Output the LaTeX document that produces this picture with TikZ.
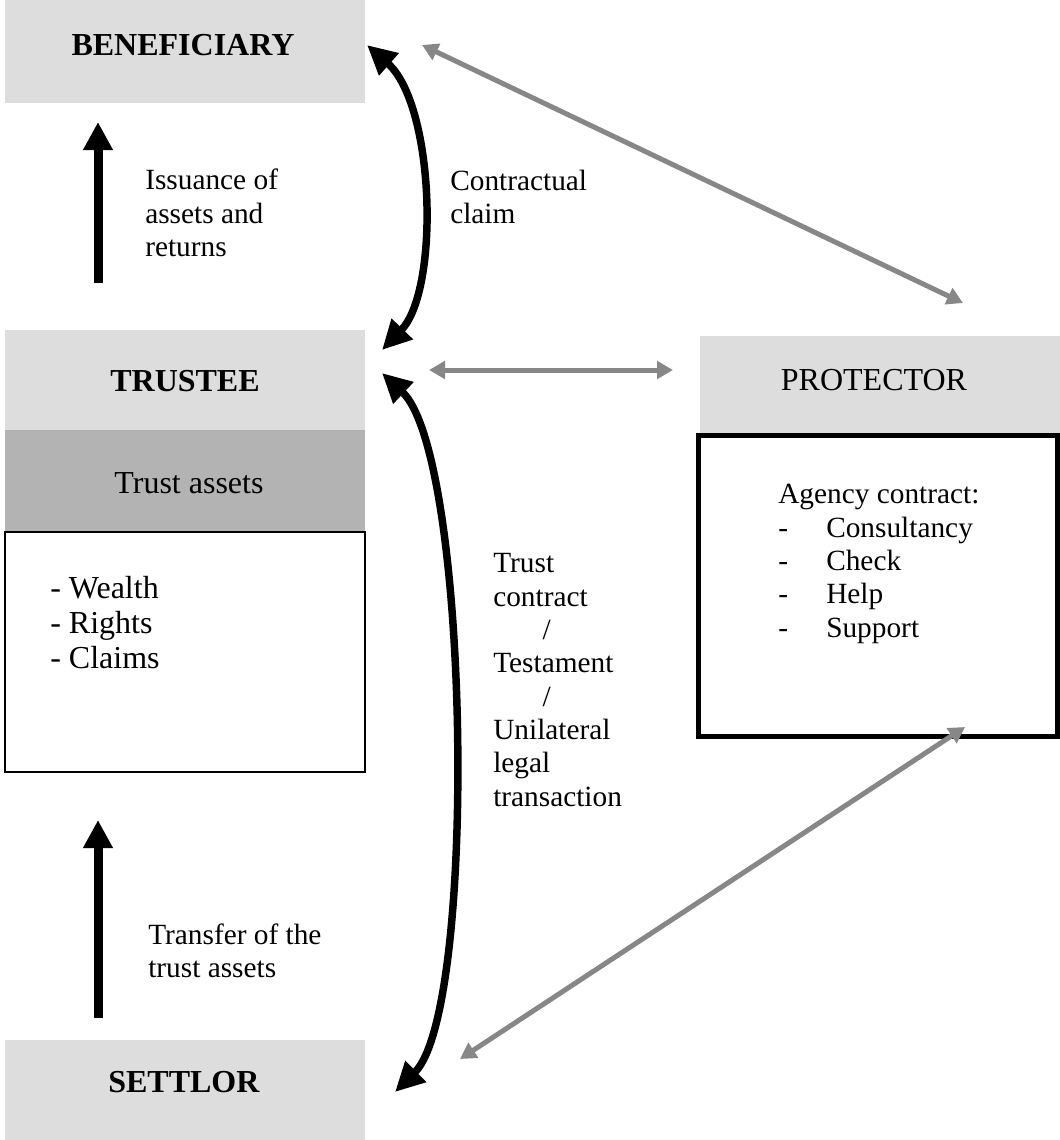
\documentclass[tikz,border=0pt]{standalone}
\usepackage{fontspec}
\setmainfont{Liberation Serif}
\usetikzlibrary{arrows.meta}
\definecolor{lightg}{HTML}{DDDDDD}
\definecolor{darkg}{HTML}{B3B3B3}
\definecolor{arrg}{HTML}{878787}
\tikzset{
  graybox/.style={fill=lightg, draw=none, inner sep=0pt, minimum width=270pt},
  darkbox/.style={fill=darkg, draw=none, inner sep=0pt, minimum width=270pt},
  txt/.style={inner sep=0pt, align=left, anchor=west},
  headtxt/.style={inner sep=0pt, font=\fontsize{24pt}{26pt}\selectfont},
  blkarrow/.style={line width=6.75pt, -{Triangle[length=21pt,width=21pt]}},
  curvearrow/.style={line width=5.6pt, {Triangle[length=22pt,width=21pt]}-{Triangle[length=22pt,width=21pt]}},
  grayarrow/.style={draw=arrg, line width=3.75pt, {Triangle[length=12pt,width=13pt]}-{Triangle[length=12pt,width=13pt]}}
}
\begin{document}
\begin{tikzpicture}[x=0.75pt,y=-0.75pt, font=\fontsize{22pt}{25pt}\selectfont]
\useasboundingbox (0,0) rectangle (1060,1140);
% boxes
\node[graybox, minimum height=77.25pt] (ben) at (185,51.5) {};
\node[headtxt] (bent) at (183,45) {\textbf{BENEFICIARY}};
\node[graybox, minimum height=75pt] (tru) at (185,380) {};
\node[headtxt] (trut) at (185,381) {\textbf{TRUSTEE}};
\node[darkbox, minimum height=75.75pt] (ta) at (185,480.5) {};
\node[headtxt] (tat) at (189,483) {Trust assets};
\node[draw=black, line width=1.9pt, fill=white, inner sep=0pt, minimum width=270pt, minimum height=180pt] (list) at (185,652) {};
\node[txt, font=\fontsize{24pt}{26.25pt}\selectfont] (listtxt) at (50,623) {- Wealth\\- Rights\\- Claims};
\node[graybox, minimum height=74.25pt] (pro) at (880,385.5) {};
\node[headtxt] (prot) at (874,380) {PROTECTOR};
\node[draw=black, line width=3.75pt, fill=white, inner sep=0pt, minimum width=269.25pt, minimum height=225.75pt] (agency) at (877.5,585.5) {};
\node[txt] (agtxt) at (778,564) {Agency contract:\\\makebox[36pt][l]{-}Consultancy\\\makebox[36pt][l]{-}Check\\\makebox[36pt][l]{-}Help\\\makebox[36pt][l]{-}Support};
\node[graybox, minimum height=75pt] (set) at (185,1090) {};
\node[headtxt] (sett) at (184,1082) {\textbf{SETTLOR}};
% labels
\node[txt] (iss) at (145,213) {Issuance of\\assets and\\returns};
\node[txt] (cc) at (450,197) {Contractual\\claim};
\node[txt] (tc) at (493,680) {Trust\\contract\\\hspace*{37pt}/\\Testament\\\hspace*{37pt}/\\Unilateral\\legal\\transaction};
\node[txt] (tr) at (148,951) {Transfer of the\\trust assets};
% arrow end points
\coordinate (a1s) at (98,283);
\coordinate (a1e) at (98,122);
\coordinate (a2s) at (98,1018);
\coordinate (a2e) at (98,820);
\coordinate (c1a) at (367,45);
\coordinate (c1b) at (382,350);
\coordinate (c2a) at (382,373);
\coordinate (c2b) at (395,1092);
\coordinate (g1a) at (422,45);
\coordinate (g1b) at (963,303);
\coordinate (g2a) at (429,370);
\coordinate (g2b) at (673,370);
\coordinate (g3a) at (965,727);
\coordinate (g3b) at (460,1059);
% arrows
\draw[blkarrow] (a1s) -- (a1e);
\draw[blkarrow] (a2s) -- (a2e);
\draw[curvearrow] (c1a) .. controls (435,105) and (440,290) .. (c1b);
\draw[curvearrow] (c2a) .. controls (470,455) and (478,1010) .. (c2b);
\draw[grayarrow] (g1a) -- (g1b);
\draw[grayarrow] (g2a) -- (g2b);
\draw[grayarrow] (g3a) -- (g3b);
\end{tikzpicture}
\end{document}
